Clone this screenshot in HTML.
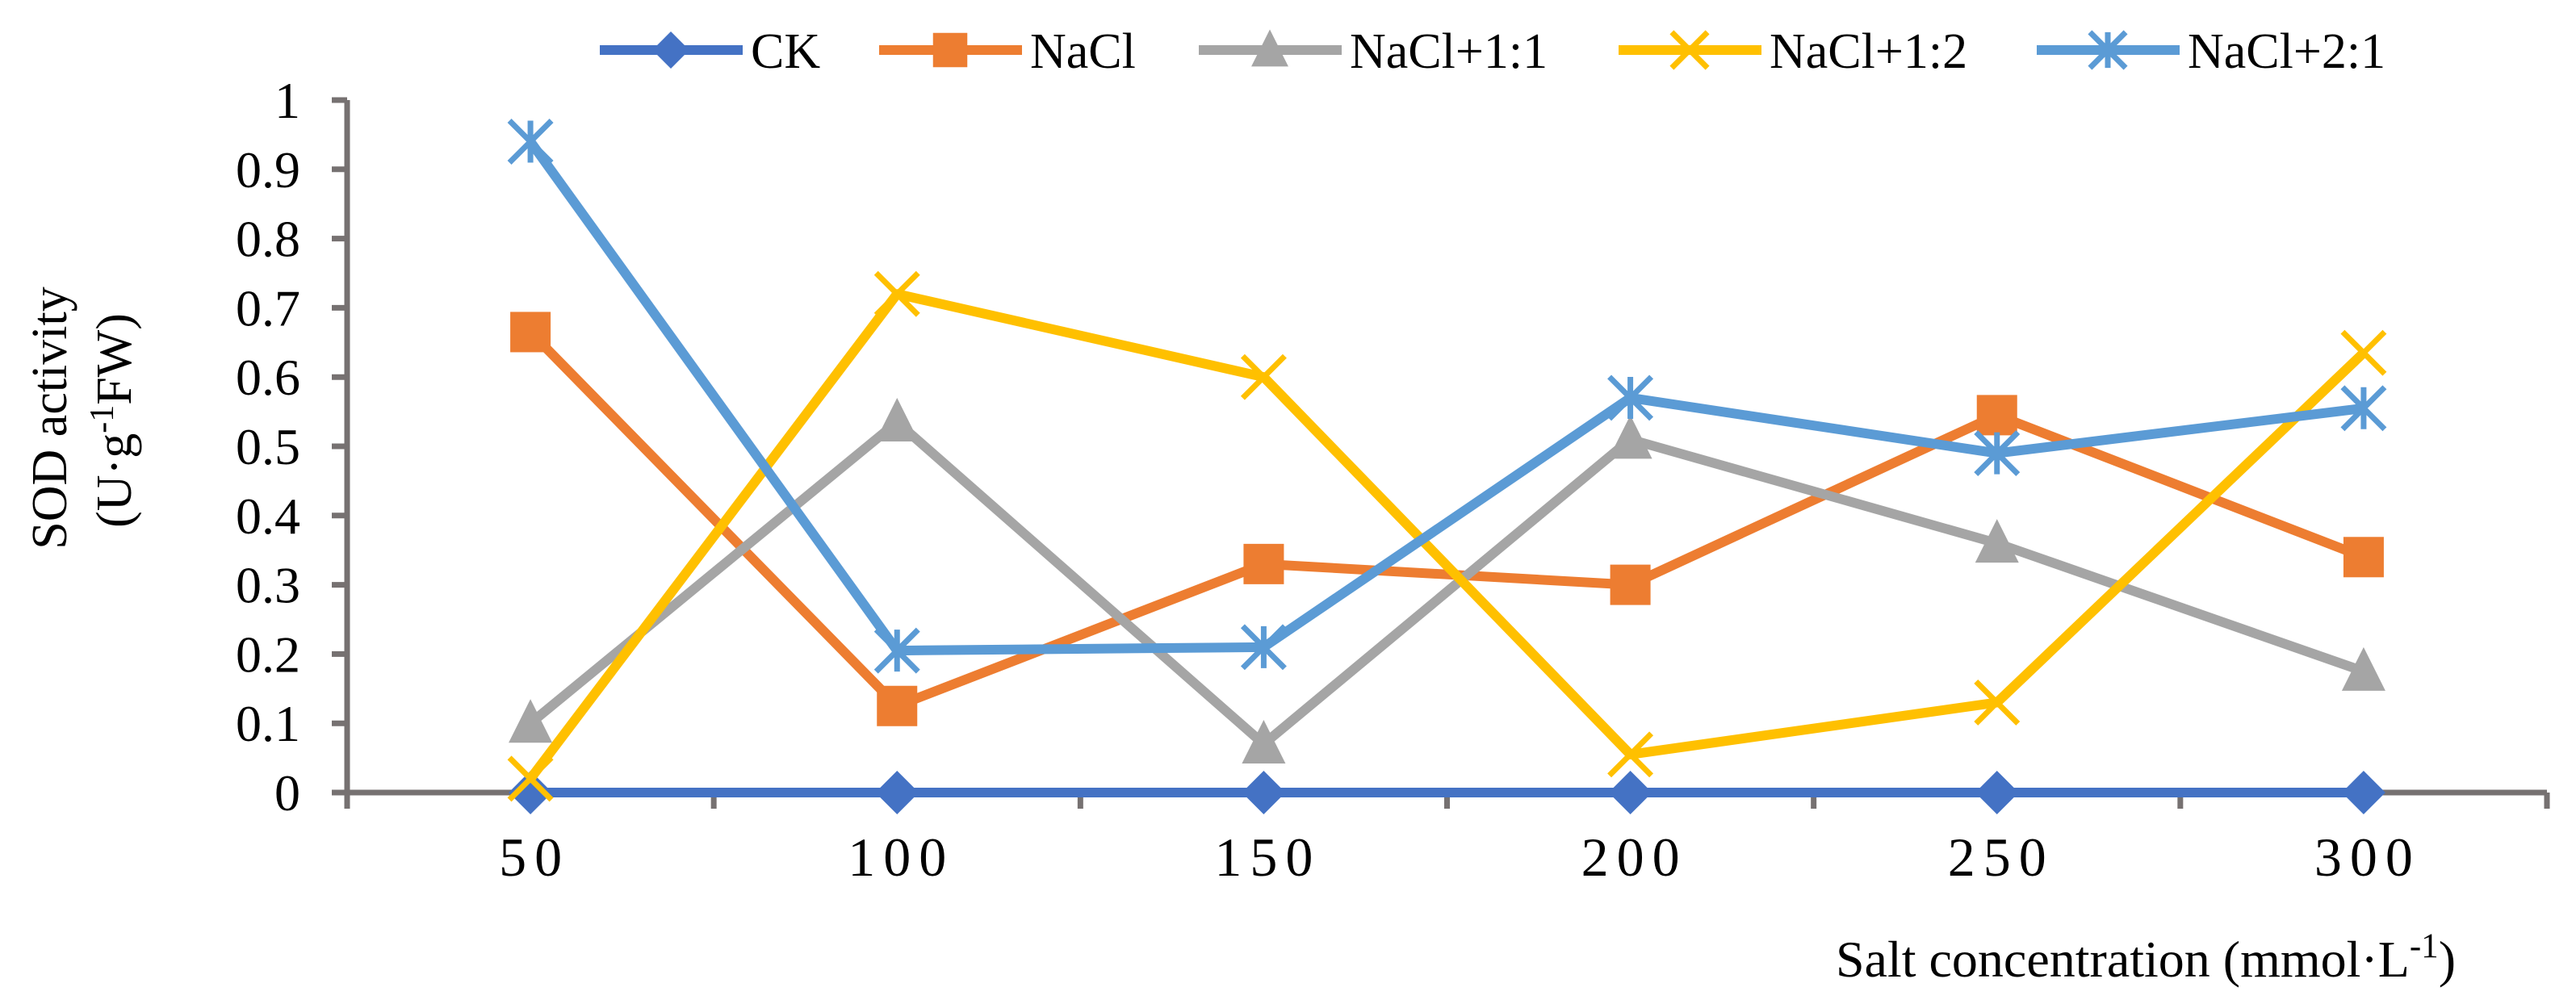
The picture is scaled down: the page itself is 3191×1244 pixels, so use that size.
<!DOCTYPE html>
<html><head><meta charset="utf-8"><style>
html,body{margin:0;padding:0;background:#fff;}
svg{display:block;font-family:"Liberation Serif","Times New Roman",serif;}
</style></head><body>
<svg id="chart" width="3191" height="1244" viewBox="0 0 3191 1244" xmlns="http://www.w3.org/2000/svg" font-family="Liberation Serif, serif">
<g id="legend"></g>
<g id="axes"></g>
<g id="series"></g>
<text transform="translate(82,518) rotate(-90)" text-anchor="middle" font-size="62">SOD activity</text>
<text transform="translate(162,521) rotate(-90)" text-anchor="middle" font-size="62">(U·g<tspan dy="-22" font-size="42">-1</tspan><tspan dy="22">FW)</tspan></text>
<text x="3042" y="1210" text-anchor="end" font-size="64">Salt concentration (mmol·L<tspan dy="-24" font-size="43">-1</tspan><tspan dy="24">)</tspan></text>
</svg>
<script>
const categories = ["50","100","150","200","250","300"];
const yTicks = [0,0.1,0.2,0.3,0.4,0.5,0.6,0.7,0.8,0.9,1];
const yTickLabels = ["0","0.1","0.2","0.3","0.4","0.5","0.6","0.7","0.8","0.9","1"];
const seriesNames = ["CK","NaCl","NaCl+1:1","NaCl+1:2","NaCl+2:1"];
const ckValues = [0,0,0,0,0,0];
const naclValues = [0.665,0.125,0.33,0.30,0.545,0.34];
const nacl11Values = [0.10,0.535,0.07,0.51,0.36,0.175];
const nacl12Values = [0.02,0.72,0.60,0.055,0.13,0.635];
const nacl21Values = [0.94,0.205,0.21,0.57,0.49,0.555];

const NS="http://www.w3.org/2000/svg";
const X0=430, X1=3155, Y0=982, YTOP=124;
const band=(X1-X0)/categories.length;
function xPos(i){return X0+band*(i+0.5);}
function yPos(v){return Y0-(Y0-YTOP)*v;}
function mk(tag,attrs,parent){const e=document.createElementNS(NS,tag);for(const k in attrs)e.setAttribute(k,attrs[k]);parent.appendChild(e);return e;}

const axes=document.getElementById('axes');
const AX="#767171";
const yl=mk('line',{x1:X0,y1:YTOP,x2:X0,y2:Y0,stroke:AX,'stroke-width':7},axes);


yTicks.forEach((t,i)=>{
  const tk=mk('line',{x1:X0-19,y1:yPos(t),x2:X0,y2:yPos(t),stroke:AX,'stroke-width':7},axes);
  
  
  const tx=mk('text',{x:372,y:yPos(t)+22,'text-anchor':'end','font-size':64},axes);
  tx.textContent=yTickLabels[i];
  
  
});
const xl=mk('line',{x1:X0,y1:Y0,x2:X1,y2:Y0,stroke:AX,'stroke-width':7},axes);


for(let i=0;i<=categories.length;i++){
  const tk=mk('line',{x1:X0+band*i,y1:Y0,x2:X0+band*i,y2:Y0+20,stroke:AX,'stroke-width':7},axes);
  
  
}
categories.forEach((c,i)=>{
  const tx=mk('text',{x:xPos(i)+5,y:1085,'text-anchor':'middle','font-size':68,'letter-spacing':10},axes);
  tx.textContent=c;
  
  
});

function marker(type,x,y,color,g,s){
  s=s||1;
  let e;
  if(type==='diamond'){
    const r=27*s;
    e=mk('polygon',{points:`${x},${y-r} ${x+r},${y} ${x},${y+r} ${x-r},${y}`,fill:color},g);
  }else if(type==='square'){
    const r=25*s;
    e=mk('rect',{x:x-r,y:y-r,width:2*r,height:2*r,fill:color},g);
  }else if(type==='triangle'){
    e=mk('polygon',{points:`${x},${y-30*s} ${x+27*s},${y+24*s} ${x-27*s},${y+24*s}`,fill:color},g);
  }else if(type==='x'){
    const r=26*s;
    e=mk('path',{d:`M${x-r},${y-r}L${x+r},${y+r}M${x-r},${y+r}L${x+r},${y-r}`,stroke:color,'stroke-width':7,fill:'none'},g);
  }else{
    const r=26*s;
    e=mk('path',{d:`M${x-r},${y-r}L${x+r},${y+r}M${x-r},${y+r}L${x+r},${y-r}M${x},${y-r}L${x},${y+r}`,stroke:color,'stroke-width':7,fill:'none'},g);
  }
  return e;
}

const defs=[
 {vals:ckValues,color:"#4472C4",m:"diamond",name:"ck"},
 {vals:naclValues,color:"#ED7D31",m:"square",name:"nacl"},
 {vals:nacl11Values,color:"#A5A5A5",m:"triangle",name:"nacl-1-1"},
 {vals:nacl12Values,color:"#FFC000",m:"x",name:"nacl-1-2"},
 {vals:nacl21Values,color:"#5B9BD5",m:"star",name:"nacl-2-1"}
];
const sg=document.getElementById('series');
defs.forEach(d=>{
  const g=mk('g',{},sg);
  
  
  const pl=mk('polyline',{points:d.vals.map((v,i)=>xPos(i)+','+yPos(v)).join(' '),fill:'none',stroke:d.color,'stroke-width':12,'stroke-linejoin':'round'},g);
  
  
  d.vals.forEach((v,i)=>{
    const e=marker(d.m,xPos(i),yPos(v),d.color,g);
    
    
  });
});

const lg=document.getElementById('legend');
const legX=[743,1089,1485,2005,2523];
seriesNames.forEach((n,i)=>{
  const g=mk('g',{},lg);
  
  
  const d=defs[i];
  const ln=mk('line',{x1:legX[i],y1:62,x2:legX[i]+177,y2:62,stroke:d.color,'stroke-width':12},g);
  
  
  const m=marker(d.m,legX[i]+88,62,d.color,g,0.85);
  
  
  const t=mk('text',{x:legX[i]+187,y:84,'font-size':62},g);
  t.textContent=n;
  
  
});
</script>
</body></html>
